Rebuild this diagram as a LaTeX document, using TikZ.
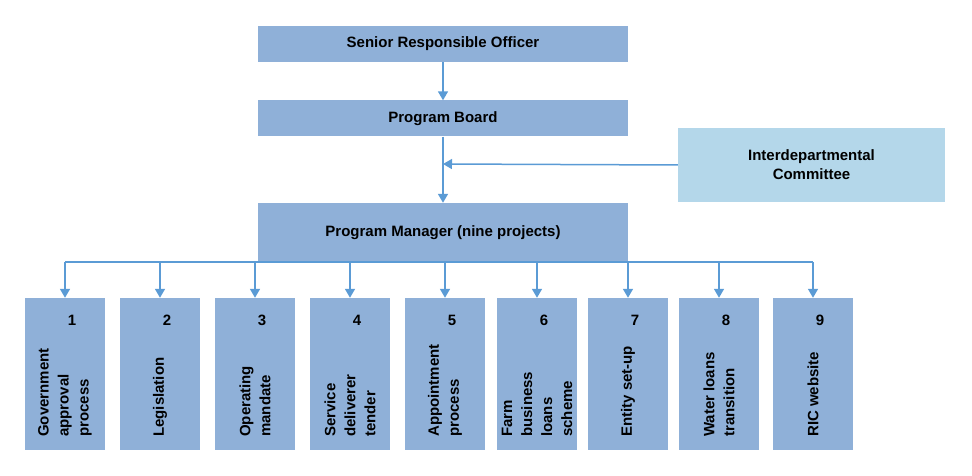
\documentclass[tikz,border=0pt]{standalone}
\usepackage{fontspec}
\setmainfont{Liberation Sans}
\usetikzlibrary{arrows.meta}
\definecolor{boxblue}{RGB}{143,176,216}
\definecolor{lightblue}{RGB}{180,215,234}
\definecolor{linkblue}{RGB}{91,155,213}
\tikzset{
  topbox/.style={fill=boxblue, minimum width=370pt, minimum height=36pt, font=\fontsize{15}{18}\selectfont\bfseries},
  projbox/.style={fill=boxblue, minimum width=80pt, minimum height=152pt},
  projtext/.style={rotate=90, anchor=west, align=left, inner sep=0pt, font=\fontsize{15}{20}\selectfont\bfseries},
  link/.style={linkblue, line width=1.5pt, -{Triangle[length=9pt,width=10pt]}},
  bus/.style={linkblue, line width=1.5pt}
}
\begin{document}
\begin{tikzpicture}[x=1pt,y=-1pt]
\useasboundingbox (0,0) rectangle (972,476);
\node[topbox] (sro) at (443,44) {Senior Responsible Officer};
\node[topbox] (board) at (443,118.5) {Program Board};
\node[topbox, minimum height=59pt] (manager) at (443,232.5) {Program Manager (nine projects)};
\node[fill=lightblue, minimum width=267pt, minimum height=74pt, align=center, font=\fontsize{15}{19}\selectfont\bfseries] (idc) at (811.5,165) {Interdepartmental\\Committee};
\draw[link] (sro) -- (board);
\draw[link] (board) -- (manager);
\coordinate (join) at (443,164);
\draw[link] (idc.west) -- (join);
% projects
\foreach \i/\x/\txt in {1/65/{Government\\approval\\process}, 2/160/{Legislation}, 3/255/{Operating\\mandate}, 4/350/{Service\\deliverer\\tender}, 5/445/{Appointment\\process}, 6/537/{Farm\\business\\loans\\scheme}, 7/628/{Entity set-up}, 8/719/{Water loans\\transition}, 9/813/{RIC website}} {
  \node[projbox] (p\i) at (\x,374) {};
  \node[font=\fontsize{15}{18}\selectfont\bfseries] (n\i) at (\x+7,320) {\i};
  \node[projtext] (t\i) at (\x,437) {\txt};
  \coordinate (b\i) at (\x,262);
  \draw[link] (b\i) -- (p\i.north);
}
\draw[bus] (b1) -- (b9);
\end{tikzpicture}
\end{document}
